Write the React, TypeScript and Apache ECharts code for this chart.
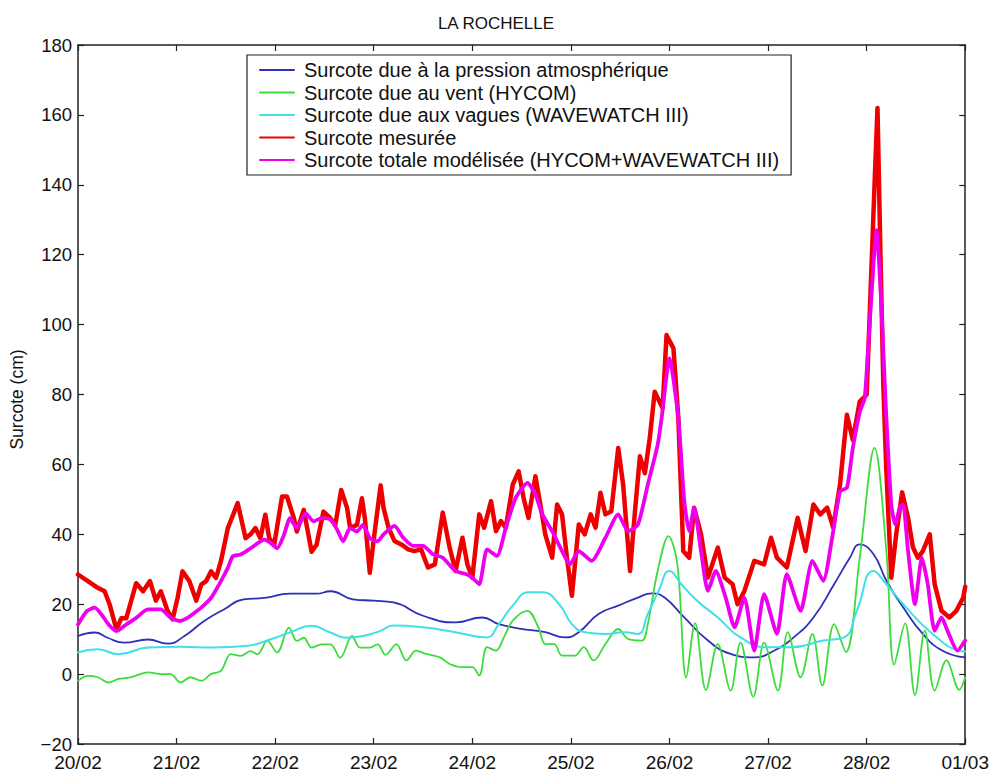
import React, { useEffect, useRef } from "react";
import * as echarts from "echarts";

// ---------- tick labels ----------
const dateLabels = ["20/02", "21/02", "22/02", "23/02", "24/02", "25/02", "26/02", "27/02", "28/02", "01/03"];

const seriesNames = [
  "Surcote due à la pression atmosphérique",
  "Surcote due au vent (HYCOM)",
  "Surcote due aux vagues (WAVEWATCH III)",
  "Surcote mesurée",
  "Surcote totale modélisée (HYCOM+WAVEWATCH III)",
];

// ---------- data (time in days since 20/02 00h, surcote in cm) ----------
const pressionT = [0, 0.17, 0.3, 0.47, 0.71, 0.91, 1.08, 1.28, 1.48, 1.68, 1.89, 2.15, 2.42, 2.56, 2.79, 3.0, 3.2, 3.5, 3.83, 4.1, 4.27, 4.51, 4.74, 4.94, 5.08, 5.28, 5.48, 5.68, 5.82, 5.95, 6.15, 6.39, 6.62, 6.86, 7.06, 7.26, 7.46, 7.67, 7.83, 7.93, 8.07, 8.2, 8.37, 8.57, 8.77, 9.0];
const pressionV = [10.9, 11.9, 10.4, 9, 9.9, 8.7, 10.9, 15.2, 18.5, 21.4, 21.8, 23, 23, 23.7, 21.4, 21, 20.5, 16.7, 14.8, 16.2, 14.3, 12.9, 12, 10.5, 12, 17.2, 19.6, 21.9, 23.1, 21.9, 16.2, 9.6, 5.8, 4.8, 6.7, 10.5, 16.2, 25.7, 33.3, 37.1, 34.3, 26.7, 19.1, 11.5, 6.7, 4.8];

const ventT = [0, 0.1, 0.2, 0.31, 0.41, 0.54, 0.71, 0.84, 0.94, 1.04, 1.14, 1.25, 1.35, 1.45, 1.55, 1.65, 1.75, 1.82, 1.92, 2.02, 2.14, 2.22, 2.29, 2.37, 2.47, 2.56, 2.66, 2.78, 2.86, 2.96, 3.04, 3.12, 3.23, 3.33, 3.43, 3.53, 3.67, 3.77, 3.9, 4.0, 4.07, 4.15, 4.24, 4.32, 4.41, 4.56, 4.67, 4.74, 4.83, 4.91, 5.04, 5.13, 5.23, 5.35, 5.48, 5.58, 5.72, 5.78, 5.88, 5.99, 6.08, 6.17, 6.26, 6.37, 6.49, 6.62, 6.72, 6.85, 6.96, 7.1, 7.2, 7.33, 7.45, 7.55, 7.67, 7.79, 7.93, 8.08, 8.2, 8.28, 8.39, 8.49, 8.59, 8.69, 8.81, 8.94, 9.0];
const ventV = [-1.9, -0.5, -0.9, -2.4, -1.4, -0.9, 0.5, 0, 0, -2.4, -0.9, -1.9, 0, 0.9, 5.7, 5.2, 6.6, 5.7, 9.5, 6.2, 13.3, 9.5, 10.4, 7.6, 8.5, 8.5, 4.7, 10.9, 7.6, 7.6, 8.5, 5.5, 8.6, 3.9, 6.7, 5.8, 4.8, 2.9, 2, 2, -0.4, 7.7, 6.7, 10.5, 15.3, 18.1, 13.4, 8.6, 8.6, 5.3, 5.3, 7.7, 3.9, 8.6, 12.9, 10.1, 9.6, 14.3, 29.5, 39.5, 31.4, -1, 14.6, -4.6, 8.6, -4.7, 9, -6.5, 9, -4.7, 12, -0.9, 11.5, -3.3, 14.3, 6.3, 33.3, 64.7, 35.2, 2.7, 14.5, -6, 12.4, -4.7, 3.9, -4.5, -0.9];

const vaguesT = [0, 0.2, 0.41, 0.71, 1.05, 1.38, 1.72, 1.95, 2.15, 2.37, 2.56, 2.73, 2.89, 3.06, 3.2, 3.5, 3.83, 4.14, 4.27, 4.41, 4.57, 4.71, 4.88, 5.01, 5.14, 5.35, 5.55, 5.68, 5.78, 5.89, 6.0, 6.12, 6.28, 6.49, 6.72, 6.99, 7.23, 7.56, 7.77, 7.9, 8.07, 8.2, 8.4, 8.67, 8.94, 9.0];
const vaguesV = [6.2, 7.1, 5.7, 7.6, 7.8, 7.6, 8.1, 9.9, 11.9, 13.8, 11.9, 10.4, 10.9, 12.3, 13.9, 13.4, 12, 10.5, 14.3, 19.6, 23.4, 23.4, 20, 14.3, 12, 11.5, 12, 11.5, 17.2, 23.8, 29.5, 25.7, 21, 16.2, 10.5, 7.7, 7.7, 9.6, 10.5, 18.1, 29.5, 25.7, 19.1, 11.5, 6.7, 6.5];

const mesureeT = [0, 0.1, 0.2, 0.27, 0.32, 0.39, 0.44, 0.49, 0.59, 0.66, 0.73, 0.79, 0.84, 0.91, 0.96, 1.01, 1.06, 1.13, 1.2, 1.25, 1.3, 1.35, 1.4, 1.45, 1.52, 1.62, 1.7, 1.75, 1.8, 1.85, 1.9, 1.94, 1.99, 2.07, 2.12, 2.19, 2.22, 2.29, 2.37, 2.42, 2.49, 2.56, 2.61, 2.67, 2.73, 2.76, 2.83, 2.88, 2.91, 2.96, 3.01, 3.07, 3.1, 3.15, 3.21, 3.28, 3.35, 3.41, 3.48, 3.55, 3.62, 3.7, 3.77, 3.83, 3.9, 3.95, 4.0, 4.07, 4.12, 4.19, 4.24, 4.29, 4.34, 4.41, 4.47, 4.52, 4.57, 4.64, 4.69, 4.74, 4.81, 4.86, 4.91, 4.96, 5.01, 5.08, 5.14, 5.2, 5.25, 5.3, 5.35, 5.41, 5.48, 5.53, 5.6, 5.65, 5.7, 5.75, 5.8, 5.85, 5.93, 5.97, 6.04, 6.09, 6.14, 6.2, 6.25, 6.32, 6.39, 6.49, 6.56, 6.64, 6.69, 6.76, 6.86, 6.96, 7.03, 7.09, 7.19, 7.3, 7.38, 7.46, 7.53, 7.6, 7.66, 7.73, 7.8, 7.86, 7.93, 8.0, 8.03, 8.08, 8.11, 8.14, 8.17, 8.2, 8.25, 8.3, 8.36, 8.42, 8.47, 8.52, 8.57, 8.64, 8.69, 8.76, 8.84, 8.91, 8.98, 9.0];
const mesureeV = [28.5, 26.6, 24.7, 23.7, 20, 12.8, 16, 16, 26, 23.7, 26.6, 21, 23.7, 18, 15.7, 21.8, 29.4, 26.6, 21, 25.6, 26.6, 29.4, 27.5, 32.3, 41.8, 48.9, 38.9, 40, 41.8, 38.9, 45.6, 38.9, 37, 50.8, 50.8, 44.6, 40.8, 47, 35, 37, 46.5, 44.6, 42.7, 52.7, 47.5, 41.8, 42.7, 50.3, 44.6, 29, 40.8, 54, 47.5, 41.9, 38.1, 37.1, 35.7, 35.2, 35.7, 30.5, 31.4, 46.2, 36.2, 29.5, 39, 31.4, 27.6, 45.7, 41.9, 49.5, 40.9, 43.8, 41.9, 54.2, 58, 50.4, 44.7, 56.6, 48.5, 40, 33.3, 48.5, 45.7, 33.3, 22.4, 42.8, 40, 45.7, 41.9, 51.9, 45.7, 46.6, 64.7, 54.2, 29.5, 46.6, 62.3, 57.5, 67.5, 80.8, 76.1, 97, 93.2, 73.2, 35.2, 33.3, 47.6, 40, 27.6, 36.2, 27.6, 25.7, 20, 23.8, 32.4, 31.4, 39, 33.3, 30.5, 44.7, 35.2, 48.5, 45.7, 47.6, 42, 54.2, 74.2, 67, 78, 80, 102, 140, 162, 120, 82, 58, 27.6, 40, 52, 44.7, 36.2, 33.3, 35.2, 40, 25.7, 18.1, 16.2, 18.1, 21.9, 25];

const totaleT = [0, 0.09, 0.17, 0.24, 0.31, 0.39, 0.49, 0.59, 0.71, 0.84, 0.94, 1.03, 1.11, 1.18, 1.25, 1.35, 1.45, 1.52, 1.57, 1.65, 1.73, 1.8, 1.89, 1.95, 2.02, 2.09, 2.15, 2.22, 2.31, 2.39, 2.47, 2.56, 2.62, 2.69, 2.76, 2.83, 2.89, 2.96, 3.04, 3.1, 3.21, 3.3, 3.4, 3.5, 3.6, 3.7, 3.83, 3.94, 4.0, 4.07, 4.15, 4.25, 4.34, 4.44, 4.56, 4.64, 4.71, 4.81, 4.91, 4.99, 5.08, 5.21, 5.35, 5.48, 5.58, 5.68, 5.78, 5.88, 5.92, 6.0, 6.09, 6.15, 6.2, 6.25, 6.32, 6.39, 6.47, 6.57, 6.66, 6.76, 6.86, 6.96, 7.09, 7.19, 7.33, 7.45, 7.56, 7.65, 7.73, 7.8, 7.86, 7.93, 7.98, 8.03, 8.1, 8.15, 8.19, 8.25, 8.29, 8.34, 8.37, 8.42, 8.49, 8.56, 8.62, 8.69, 8.76, 8.82, 8.92, 9.0];
const totaleV = [14.2, 18, 19, 17, 14.2, 12.3, 14.2, 16.1, 18.5, 18.5, 16.1, 15.2, 16.1, 17.5, 19, 21.8, 26.6, 30.4, 33.7, 34.2, 35.6, 37, 38.5, 37.6, 36, 39.9, 44.6, 41.8, 46, 43.7, 44.6, 44.2, 41.8, 38, 41.8, 40.8, 42.7, 38.9, 38, 40, 42.4, 39, 36.7, 36.7, 34.3, 33.3, 29.5, 28.6, 27.6, 25.7, 35.7, 33.8, 41.9, 50.4, 54.7, 51.4, 45.7, 40.9, 35.2, 31.4, 35.2, 32.4, 39, 45.7, 40.9, 42.8, 54.2, 65.6, 73.2, 90.3, 73.2, 49.5, 40.9, 47.6, 35.2, 23.8, 29.5, 21.9, 13.4, 21.9, 6.7, 22.9, 11.5, 28.6, 18.1, 32.4, 26.7, 39, 52.3, 53.3, 64.7, 75, 79, 100, 127, 105, 79, 48.5, 42.8, 48, 48.5, 35.2, 20, 33.3, 25.7, 12.4, 16.2, 12.4, 6.7, 9.6];

const zip = (t: number[], v: number[]) => t.map((x, i) => [x, v[i]]);

const FONT = "'Liberation Sans', Arial, Helvetica, sans-serif";
const AXIS_COLOR = "#222";

export default function App() {
  const ref = useRef<HTMLDivElement>(null);

  useEffect(() => {
    if (!ref.current) return;
    const chart = echarts.init(ref.current, null, { renderer: "svg" });

    const axisLine = { show: true, onZero: false, lineStyle: { color: AXIS_COLOR, width: 1.5 } };
    const axisTick = { show: true, inside: true, length: 6, lineStyle: { color: AXIS_COLOR, width: 1.2 } };

    const mkSeries = (name: string, t: number[], v: number[], color: string, width: number, smooth: number | boolean) => ({
      name,
      type: "line",
      data: zip(t, v),
      symbol: "none",
      showSymbol: false,
      smooth,
      xAxisIndex: 0,
      yAxisIndex: 0,
      lineStyle: { color, width, join: "round", cap: "round" },
      itemStyle: { color },
      emphasis: { disabled: true },
    });

    chart.setOption({
      animation: false,
      backgroundColor: "#fff",
      textStyle: { fontFamily: FONT },
      title: {
        text: "LA ROCHELLE",
        left: "center",
        top: 10,
        textStyle: { fontFamily: FONT, fontSize: 17, fontWeight: "normal", color: "#111" },
      },
      grid: { left: 73, right: 26, top: 45, bottom: 25, containLabel: false },
      legend: {
        orient: "vertical",
        left: 247,
        top: 55,
        data: seriesNames,
        itemWidth: 34,
        itemHeight: 14,
        itemGap: 2.5,
        padding: [5, 12, 5, 12],
        borderColor: AXIS_COLOR,
        borderWidth: 1.2,
        backgroundColor: "#fff",
        itemStyle: { opacity: 0 },
        textStyle: { fontFamily: FONT, fontSize: 20, color: "#111", lineHeight: 20, padding: [0, 0, 0, 5] },
        selectedMode: false,
      },
      xAxis: [
        {
          type: "value",
          min: 0,
          max: 9,
          interval: 1,
          position: "bottom",
          axisLine,
          axisTick,
          splitLine: { show: false },
          axisLabel: {
            fontFamily: FONT,
            fontSize: 19,
            color: "#111",
            margin: 9,
            formatter: (v: number) => dateLabels[Math.round(v)] ?? "",
          },
        },
        {
          type: "value",
          min: 0,
          max: 9,
          interval: 1,
          position: "top",
          axisLine,
          axisTick,
          splitLine: { show: false },
          axisLabel: { show: false },
        },
      ],
      yAxis: [
        {
          type: "value",
          min: -20,
          max: 180,
          interval: 20,
          position: "left",
          name: "Surcote (cm)",
          nameLocation: "middle",
          nameGap: 52,
          nameTextStyle: { fontFamily: FONT, fontSize: 17.5, color: "#111", padding: [0, 10, 0, 0] },
          axisLine,
          axisTick,
          splitLine: { show: false },
          axisLabel: {
            fontFamily: FONT,
            fontSize: 18.5,
            color: "#111",
            margin: 6,
            formatter: (v: number) => String(v).replace("-", "\u2212"),
          },
        },
        {
          type: "value",
          min: -20,
          max: 180,
          interval: 20,
          position: "right",
          axisLine,
          axisTick,
          splitLine: { show: false },
          axisLabel: { show: false },
        },
      ],
      series: [
        mkSeries(seriesNames[0], pressionT, pressionV, "#2f2fb8", 1.8, true),
        mkSeries(seriesNames[1], ventT, ventV, "#3ddc3d", 1.8, 0.35),
        mkSeries(seriesNames[2], vaguesT, vaguesV, "#3fe0e6", 2, true),
        mkSeries(seriesNames[3], mesureeT, mesureeV, "#ee0000", 4.5, false),
        mkSeries(seriesNames[4], totaleT, totaleV, "#ee00ee", 3.8, 0.2),
      ],
    });

    return () => chart.dispose();
  }, []);

  return (
    <div
      ref={ref}
      style={{ position: "fixed", left: 0, top: 0, width: 992, height: 772, background: "#fff" }}
    />
  );
}
